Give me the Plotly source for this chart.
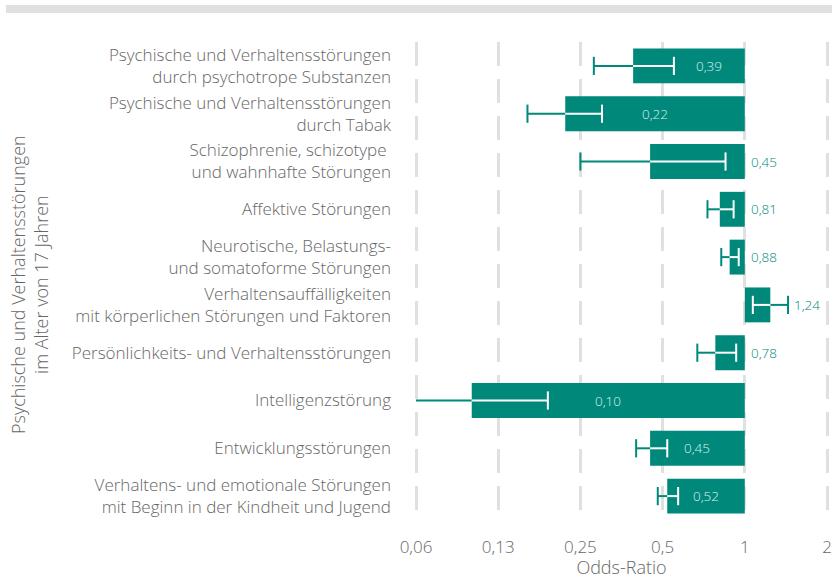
import math
import plotly.graph_objects as go

categories = [
    "Psychische und Verhaltensstörungen<br>durch psychotrope Substanzen",
    "Psychische und Verhaltensstörungen<br>durch Tabak",
    "Schizophrenie, schizotype <br>und wahnhafte Störungen",
    "Affektive Störungen",
    "Neurotische, Belastungs-<br>und somatoforme Störungen",
    "Verhaltensauffälligkeiten<br>mit körperlichen Störungen und Faktoren",
    "Persönlichkeits- und Verhaltensstörungen",
    "Intelligenzstörung",
    "Entwicklungsstörungen",
    "Verhaltens- und emotionale Störungen<br>mit Beginn in der Kindheit und Jugend",
]
odds_ratio = [0.39, 0.22, 0.45, 0.81, 0.88, 1.24, 0.78, 0.10, 0.45, 0.52]
ci_low = [0.28, 0.16, 0.25, 0.73, 0.82, 1.07, 0.67, 0.05, 0.40, 0.48]
ci_high = [0.55, 0.30, 0.85, 0.91, 0.95, 1.44, 0.93, 0.19, 0.52, 0.57]
tick_vals = [0.0625, 0.125, 0.25, 0.5, 1, 2]
tick_text = ["0,06", "0,13", "0,25", "0,5", "1", "2"]
x_title = "Odds-Ratio"
y_title = "Psychische und Verhaltensstörungen<br>im Alter von 17 Jahren"

TEAL = "#00897b"
WHITE = "#ffffff"
FONT = "Open Sans"
GREY = "#666666"

FIG_W, FIG_H = 832, 579
PAD = 3  # px of padding beyond the end ticks so edge gridlines are drawn
px_per_log10 = 82.25 / math.log10(2)
plot_l, plot_r, plot_t, plot_b = 416 - PAD, 827 + PAD, 42, 520
pw, ph = plot_r - plot_l, plot_b - plot_t
pad_log = PAD / px_per_log10

fig = go.Figure()

fig.add_trace(go.Bar(
    y=categories,
    x=[v - 1 for v in odds_ratio],
    base=[1] * len(odds_ratio),
    orientation="h",
    width=0.73,
    marker=dict(color=TEAL, line=dict(width=0)),
    hoverinfo="skip",
))

# whiskers split into inside (white) and outside (teal) parts
tx, ty, wx, wy = [], [], [], []
cap_x, cap_y, cap_c = [], [], []
for cat, v, lo, hi in zip(categories, odds_ratio, ci_low, ci_high):
    b0, b1 = min(v, 1), max(v, 1)
    a, b = max(lo, b0), min(hi, b1)
    if a < b:
        wx += [a, b, None]
        wy += [cat, cat, None]
    if lo < b0:
        tx += [max(lo, tick_vals[0]), min(hi, b0), None]
        ty += [cat, cat, None]
    if hi > b1:
        tx += [max(lo, b1), hi, None]
        ty += [cat, cat, None]
    for e in (lo, hi):
        if e < tick_vals[0]:
            continue
        cap_x.append(e)
        cap_y.append(cat)
        cap_c.append(WHITE if b0 <= e <= b1 else TEAL)

fig.add_trace(go.Scatter(x=tx, y=ty, mode="lines", line=dict(color=TEAL, width=2),
                         hoverinfo="skip"))
fig.add_trace(go.Scatter(x=wx, y=wy, mode="lines", line=dict(color=WHITE, width=2),
                         hoverinfo="skip"))
fig.add_trace(go.Scatter(x=cap_x, y=cap_y, mode="markers",
                         marker=dict(symbol="line-ns", size=13,
                                     line=dict(color=cap_c, width=2)),
                         hoverinfo="skip"))

# value labels
annotations = []
for cat, v, lo, hi in zip(categories, odds_ratio, ci_low, ci_high):
    txt = f"{v:.2f}".replace(".", ",")
    if max(hi, v) < 0.7:
        center = math.log10(v) / 2
        if (center - math.log10(hi)) * px_per_log10 < 20:
            center = math.log10(hi) / 2
        annotations.append(dict(x=center, y=cat, xref="x", yref="y", text=txt,
                                showarrow=False, xanchor="center",
                                font=dict(family=FONT, size=13.5, color="#dcefec", weight=300)))
    else:
        annotations.append(dict(x=math.log10(max(1, hi, v)), y=cat, xref="x", yref="y",
                                text=txt, showarrow=False, xanchor="left", xshift=4,
                                font=dict(family=FONT, size=13.5, color=TEAL, weight=300)))

annotations.append(dict(x=(29 - plot_l) / pw, y=0.5 - 4 / ph, xref="paper", yref="paper",
                        xanchor="center", yanchor="middle",
                        text=y_title, showarrow=False, textangle=-90,
                        font=dict(family=FONT, size=18, color=GREY, weight=300)))

fig.update_layout(
    width=FIG_W, height=FIG_H,
    margin=dict(l=plot_l, r=FIG_W - plot_r, t=plot_t, b=FIG_H - plot_b, autoexpand=False),
    paper_bgcolor="white", plot_bgcolor="white",
    showlegend=False,
    font=dict(family=FONT, size=17, color=GREY, weight=300),
    annotations=annotations,
    shapes=[dict(type="rect", xref="paper", yref="paper",
                 x0=(6 - plot_l) / pw, x1=(FIG_W - plot_l) / pw,
                 y0=1 + (plot_t - 13) / ph, y1=1 + (plot_t - 5) / ph,
                 fillcolor="#e0e0e0", line=dict(width=0), layer="below")],
)
fig.update_xaxes(
    type="log", automargin=False,
    range=[math.log10(tick_vals[0]) - pad_log, math.log10(tick_vals[-1]) + pad_log],
    tickvals=tick_vals, ticktext=tick_text,
    showgrid=True, gridcolor="#e0e0e0", gridwidth=2.5, griddash="24px,13px",
    zeroline=False, showline=False, ticks="",
    ticklabelstandoff=15, ticklabeloverflow="allow",
    tickfont=dict(family=FONT, size=17, color=GREY, weight=300),
    title=dict(text=x_title, standoff=7,
               font=dict(family=FONT, size=18, color=GREY, weight=300)),
)
fig.update_yaxes(
    type="category", range=[len(categories) - 0.5, -0.5], automargin=False,
    showgrid=False, zeroline=False, showline=False, ticks="",
    ticklabelstandoff=24 - PAD,
    tickfont=dict(family=FONT, size=17, color=GREY, weight=300),
)

fig.write_html(
    "out.html",
    config={"displayModeBar": False},
    post_script="document.body.style.margin='0';document.body.style.overflow='hidden';",
)
